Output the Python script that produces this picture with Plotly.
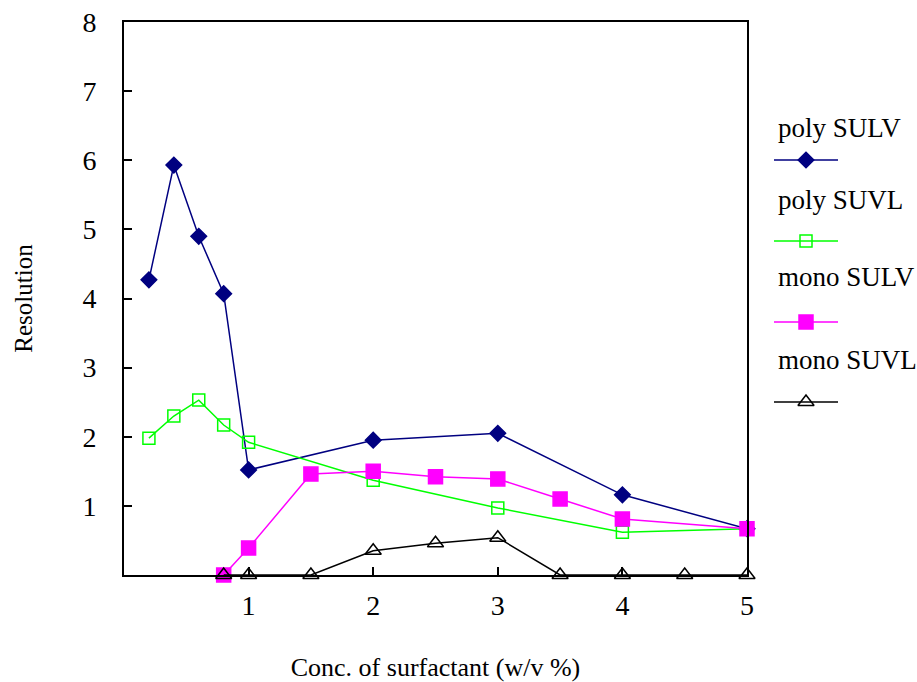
import plotly.graph_objects as go

# ---- data ----
x_poly = [0.2, 0.4, 0.6, 0.8, 1, 2, 3, 4, 5]
poly_sulv = [4.27, 5.93, 4.90, 4.07, 1.52, 1.95, 2.05, 1.16, 0.67]
poly_suvl = [1.98, 2.30, 2.53, 2.17, 1.92, 1.37, 0.97, 0.62, 0.67]

x_mono_sulv = [0.8, 1, 1.5, 2, 2.5, 3, 3.5, 4, 5]
mono_sulv = [0.0, 0.39, 1.46, 1.50, 1.42, 1.39, 1.10, 0.81, 0.67]

x_mono_suvl = [0.8, 1, 1.5, 2, 2.5, 3, 3.5, 4, 4.5, 5]
mono_suvl = [0.0, 0.0, 0.0, 0.35, 0.46, 0.54, 0.0, 0.0, 0.0, 0.0]

x_ticks = [1, 2, 3, 4, 5]
y_ticks = [1, 2, 3, 4, 5, 6, 7, 8]

series_names = ["poly SULV", "poly SUVL", "mono SULV", "mono SUVL"]
series_colors = ["#000080", "#00FF00", "#FF00FF", "#000000"]
series_symbols = ["diamond", "square-open", "square", "triangle-up-open"]
series_sizes = [12, 12, 14, 14]

FONT = "Liberation Serif, Times New Roman, serif"

W, H = 917, 682
L, R, T, B = 124, 10, 22, 107
plot_w = W - L - R
x_end = (747 - L) / plot_w

fig = go.Figure()

data = [(x_poly, poly_sulv), (x_poly, poly_suvl), (x_mono_sulv, mono_sulv), (x_mono_suvl, mono_suvl)]
for (xs, ys), name, col, sym, sz in zip(data, series_names, series_colors, series_symbols, series_sizes):
    fig.add_trace(go.Scatter(
        x=xs, y=ys, mode="lines+markers", name=name,
        line=dict(color=col, width=1.5),
        marker=dict(symbol=sym, size=sz, color=col, opacity=1, line=dict(color=col, width=1.5)),
        cliponaxis=False, showlegend=False,
    ))

# ---- custom legend (text above sample line, like the original) ----
leg_text_y = [128, 200, 277, 360]
leg_line_y = [160, 241, 322, 402]
for i, (name, col, sym, sz) in enumerate(zip(series_names, series_colors, series_symbols, series_sizes)):
    fig.add_trace(go.Scatter(
        x=[0, 0.5, 1], y=[leg_line_y[i]] * 3, mode="lines+markers",
        line=dict(color=col, width=1.5),
        marker=dict(symbol=sym, size=[0, sz, 0], color=col, opacity=1, line=dict(color=col, width=1.5)),
        xaxis="x2", yaxis="y2", showlegend=False, hoverinfo="skip", cliponaxis=False,
    ))
    fig.add_annotation(
        x=(776 - L) / plot_w, y=1 - (leg_text_y[i] - T) / (H - T - B),
        xref="paper", yref="paper", text=name, showarrow=False,
        xanchor="left", yanchor="middle",
        font=dict(family=FONT, size=27, color="black"),
    )

fig.update_layout(
    width=W, height=H,
    margin=dict(l=L, r=R, t=T, b=B, autoexpand=False),
    paper_bgcolor="white", plot_bgcolor="white",
    font=dict(family=FONT, color="black"),
    xaxis=dict(
        domain=[0, x_end], range=[0, 5], tickvals=x_ticks,
        ticks="inside", ticklen=8, tickwidth=1.5, tickcolor="black",
        showline=True, linecolor="black", linewidth=2, mirror=True,
        showgrid=False, zeroline=False, automargin=False,
        tickfont=dict(family=FONT, size=28), ticklabelstandoff=4,
        title=dict(text="Conc. of surfactant (w/v %)", font=dict(family=FONT, size=26), standoff=40),
    ),
    yaxis=dict(
        range=[0, 8], tickvals=y_ticks,
        ticks="inside", ticklen=8, tickwidth=1.5, tickcolor="black",
        showline=True, linecolor="black", linewidth=2, mirror=True,
        showgrid=False, zeroline=False, automargin=False,
        tickfont=dict(family=FONT, size=28), ticklabelstandoff=20,
        title=dict(text="Resolution", font=dict(family=FONT, size=25), standoff=43),
    ),
    xaxis2=dict(
        domain=[(774 - L) / plot_w, (838 - L) / plot_w], range=[0, 1],
        visible=False, anchor="y2",
    ),
    yaxis2=dict(
        domain=[0, 1], range=[H - B, T], visible=False, anchor="x2",
    ),
)

fig.write_html("out.html", config={"displayModeBar": False},
               post_script="document.body.style.margin='0px';")
